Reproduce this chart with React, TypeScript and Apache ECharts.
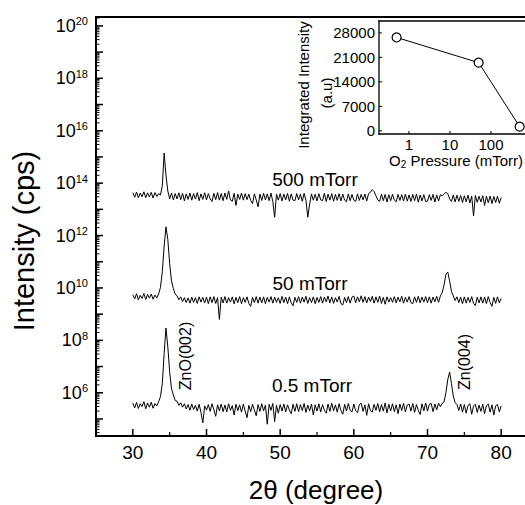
import React, { useEffect, useRef } from 'react';
import * as echarts from 'echarts';

// 2-theta sampling of the XRD scans (degrees)
const X_START = 30;
const X_STEP = 0.25;

// log10(intensity / cps) of each scan, one value every 0.25 deg from 30 to 80 deg
const logI_500mTorr = [
  13.64, 13.46, 13.66, 13.44, 13.62, 13.48, 13.67, 13.45, 13.63, 13.47,
  13.65, 13.43, 13.64, 13.49, 13.60, 13.55, 13.90, 15.15, 14.30, 13.70,
  13.40, 13.62, 13.36, 13.60, 13.40, 13.63, 13.37, 13.61, 13.32, 13.59,
  13.38, 13.62, 13.35, 13.60, 13.39, 13.64, 13.33, 13.59, 13.38, 13.63,
  13.36, 13.60, 13.40, 13.30, 13.61, 13.37, 13.64, 13.35, 13.60, 13.33,
  13.62, 13.38, 13.70, 13.36, 13.31, 13.61, 13.15, 13.58, 13.38, 13.62,
  13.35, 13.60, 13.37, 13.58, 13.34, 13.22, 13.59, 13.36, 13.10, 13.58,
  13.34, 13.61, 13.36, 13.59, 13.33, 13.62, 13.30, 12.70, 13.58, 13.35,
  13.60, 13.32, 13.58, 13.36, 13.61, 13.31, 13.59, 13.35, 13.33, 13.60,
  13.36, 13.58, 13.31, 13.61, 13.34, 12.70, 13.20, 13.59, 13.35, 13.58,
  13.32, 13.60, 13.36, 13.33, 13.61, 13.30, 13.58, 13.35, 13.60, 13.31,
  13.57, 13.34, 13.60, 13.32, 13.58, 13.35, 13.29, 13.59, 13.33, 13.57,
  13.35, 13.30, 13.59, 13.34, 13.57, 13.36, 13.58, 13.32, 13.60, 13.65,
  13.75, 13.68, 13.52, 13.36, 13.30, 13.58, 13.33, 13.57, 13.28, 13.56,
  13.33, 13.58, 13.35, 13.29, 13.57, 13.34, 13.56, 13.32, 13.58, 13.31,
  13.55, 13.30, 13.57, 13.33, 13.58, 13.27, 13.55, 13.32, 13.56, 13.30,
  13.31, 13.56, 13.34, 13.57, 13.28, 13.55, 13.32, 13.56, 13.52, 13.58,
  13.65, 13.60, 13.40, 13.30, 13.55, 13.28, 13.54, 13.30, 13.53, 13.26,
  13.52, 13.29, 13.54, 13.24, 13.51, 12.75, 13.53, 13.27, 13.50, 13.28,
  13.52, 13.15, 13.50, 13.25, 13.51, 13.22, 13.49, 13.26, 13.50, 13.23,
  13.45,
];

const logI_50mTorr = [
  9.74, 9.58, 9.78, 9.55, 9.72, 9.60, 9.79, 9.56, 9.75, 9.61,
  9.77, 9.57, 9.73, 9.62, 9.77, 10.02, 10.62, 11.60, 12.33, 11.85,
  10.92, 10.27, 9.97, 9.76, 9.70, 9.55, 9.66, 9.48, 9.63, 9.44,
  9.62, 9.42, 9.65, 9.45, 9.63, 9.41, 9.66, 9.46, 9.64, 9.43,
  9.65, 9.40, 9.66, 9.44, 9.67, 9.41, 9.63, 8.80, 9.65, 9.43,
  9.67, 9.42, 9.63, 9.46, 9.66, 9.39, 9.64, 9.44, 9.67, 9.40,
  9.63, 9.45, 9.66, 9.41, 9.30, 9.64, 9.44, 9.67, 9.42, 9.65,
  9.43, 9.66, 9.40, 9.64, 9.46, 9.67, 9.42, 9.65, 9.45, 9.63,
  9.41, 9.68, 9.44, 9.65, 9.40, 9.66, 9.43, 9.32, 9.64, 9.45,
  9.67, 9.42, 9.65, 9.46, 9.68, 9.41, 9.63, 9.44, 9.66, 9.40,
  9.64, 9.45, 9.67, 9.42, 9.65, 9.47, 9.69, 9.43, 9.66, 9.41,
  9.63, 9.46, 9.68, 9.40, 9.35, 9.64, 9.44, 9.67, 9.42, 9.65,
  9.69, 9.44, 9.66, 9.47, 9.70, 9.45, 9.67, 9.43, 9.65, 9.48,
  9.68, 9.42, 9.66, 9.45, 9.69, 9.41, 9.64, 9.38, 9.66, 9.46,
  9.63, 9.45, 9.67, 9.43, 9.65, 9.47, 9.68, 9.42, 9.64, 9.46,
  9.67, 9.44, 9.40, 9.66, 9.45, 9.68, 9.43, 9.65, 9.46, 9.67,
  9.44, 9.66, 9.42, 9.65, 9.47, 9.68, 9.45, 9.70, 9.82, 10.12,
  10.52, 10.61, 10.27, 9.87, 9.70, 9.52, 9.66, 9.44, 9.65, 9.40,
  9.66, 9.42, 9.64, 9.45, 9.67, 9.41, 9.33, 9.65, 9.43, 9.66,
  9.42, 9.65, 9.40, 9.67, 9.44, 9.30, 9.64, 9.41, 9.66, 9.43,
  9.60,
];

const logI_05mTorr = [
  5.60, 5.42, 5.63, 5.40, 5.58, 5.47, 5.66, 5.39, 5.61, 5.45,
  5.64, 5.41, 5.59, 5.50, 5.66, 5.85, 6.35, 7.50, 8.47, 7.75,
  6.80, 6.15, 5.92, 5.70, 5.68, 5.52, 5.62, 5.45, 5.58, 5.38,
  5.55, 5.33, 5.57, 5.36, 5.52, 5.30, 5.56, 5.25, 4.85, 5.50,
  5.34, 5.55, 5.29, 5.58, 5.35, 5.10, 5.54, 5.31, 5.57, 5.28,
  5.53, 5.27, 5.58, 5.33, 5.51, 5.15, 5.56, 5.32, 5.54, 5.26,
  5.57, 5.30, 5.05, 5.52, 5.28, 5.56, 5.34, 5.12, 5.55, 5.29,
  5.58, 5.31, 5.53, 4.80, 5.56, 5.33, 5.59, 4.90, 5.52, 5.22,
  5.55, 5.30, 5.57, 5.27, 5.54, 5.34, 5.20, 5.56, 5.29, 5.58,
  5.28, 5.55, 5.32, 5.59, 5.25, 5.53, 5.31, 5.57, 5.15, 5.54,
  5.30, 5.58, 5.27, 5.55, 5.33, 5.22, 5.57, 5.29, 5.60, 5.31,
  5.54, 5.26, 5.58, 5.32, 5.18, 5.56, 5.30, 5.59, 5.33, 5.27,
  5.57, 5.31, 5.24, 5.55, 5.60, 5.29, 5.54, 5.14, 5.58, 5.32,
  5.26, 5.56, 5.33, 5.59, 5.27, 5.55, 5.30, 5.61, 5.23, 5.56,
  5.31, 5.58, 5.28, 5.54, 5.20, 5.57, 5.32, 5.60, 5.27, 5.53,
  5.57, 5.30, 5.59, 5.25, 5.55, 5.33, 5.17, 5.58, 5.31, 5.61,
  5.30, 5.56, 5.59, 5.28, 5.57, 5.35, 5.60, 5.47, 5.60, 5.65,
  6.00, 6.50, 6.79, 6.35, 5.88, 5.62, 5.55, 5.32, 5.57, 5.26,
  5.55, 5.22, 5.52, 5.58, 5.18, 5.50, 5.56, 5.25, 5.53, 5.29,
  5.56, 5.20, 5.51, 5.57, 5.26, 5.54, 5.15, 5.50, 5.55, 5.27,
  5.50,
];

// Inset: integrated intensity vs O2 pressure
const o2Pressure = [0.5, 50, 500]; // mTorr
const integratedIntensity = [26700, 19500, 1200]; // a.u.

// Axis ranges
const X_MIN = 25;
const X_MAX = 85;
const Y_MIN = 4.35;
const Y_MAX = 20.34;
const IX_MIN = -0.73;
const IX_MAX = 3;
const IY_MIN = -900;
const IY_MAX = 31400;

// Tick / label positions
const xLabelValues = [30, 40, 50, 60, 70, 80];
const xMinorValues = [35, 45, 55, 65, 75];
const yLabelExponents = [6, 8, 10, 12, 14, 16, 18, 20];
const yDecadeExponents = [5, 6, 7, 8, 9, 10, 11, 12, 13, 14, 15, 16, 17, 18, 19, 20];
const yMinorMultipliers = [2, 3, 4, 5, 6, 7, 8, 9];
const insetYLabels = [0, 7000, 14000, 21000, 28000];
const insetXLabelExponents = [0, 1, 2];

const FONT = '"Liberation Sans", Arial, Helvetica, sans-serif';

const yMinorExponents: number[] = [];
for (let n = 4; n <= 20; n++) {
  for (const k of yMinorMultipliers) {
    const v = n + Math.log10(k);
    if (v > Y_MIN && v < Y_MAX) yMinorExponents.push(v);
  }
}

const toPairs = (arr: number[]) => arr.map((v, i) => [X_START + i * X_STEP, v]);

const black = '#000';

// short tick marks drawn through the axes' own scales
const tickSeries = (xi: number, yi: number, pts: number[][], dx: number, dy: number, width: number) => ({
  type: 'custom',
  xAxisIndex: xi,
  yAxisIndex: yi,
  silent: true,
  clip: false,
  z: 6,
  data: pts,
  renderItem: (_p: any, api: any) => {
    const p = api.coord([api.value(0), api.value(1)]);
    return {
      type: 'line',
      shape: { x1: p[0], y1: p[1], x2: p[0] + dx, y2: p[1] + dy },
      style: { stroke: black, lineWidth: width },
    };
  },
});

// frame segments [x1, y1, x2, y2] in data units
const segSeries = (xi: number, yi: number, segs: number[][], width: number) => ({
  type: 'custom',
  xAxisIndex: xi,
  yAxisIndex: yi,
  silent: true,
  clip: false,
  z: 6,
  dimensions: ['x', 'y', 'x2', 'y2'],
  encode: { x: 0, y: 1 },
  data: segs,
  renderItem: (_p: any, api: any) => {
    const a = api.coord([api.value(0), api.value(1)]);
    const b = api.coord([api.value(2), api.value(3)]);
    return {
      type: 'line',
      shape: { x1: a[0], y1: a[1], x2: b[0], y2: b[1] },
      style: { stroke: black, lineWidth: width, lineCap: 'square' },
    };
  },
});

function buildOption(): any {
  const scanSeries = [logI_500mTorr, logI_50mTorr, logI_05mTorr].map((arr, i) => ({
    type: 'line',
    name: ['500 mTorr', '50 mTorr', '0.5 mTorr'][i],
    xAxisIndex: 0,
    yAxisIndex: 0,
    data: toPairs(arr),
    showSymbol: false,
    symbol: 'none',
    lineStyle: { color: black, width: 1 },
    silent: true,
  }));

  const txt = (text: string, x: number, y: number, fontSize: number, rot = 0, extra: any = {}) => ({
    type: 'text',
    x,
    y,
    rotation: rot,
    silent: true,
    z: 100,
    style: {
      text,
      x: 0,
      y: 0,
      fill: black,
      fontSize,
      fontFamily: FONT,
      align: 'center',
      verticalAlign: 'middle',
      ...extra,
    },
  });

  const gridBase = { show: false, outerBoundsMode: 'none', containLabel: false };
  const off = { axisLine: { show: false }, axisTick: { show: false }, splitLine: { show: false } };

  return {
    animation: false,
    backgroundColor: '#fff',
    grid: [
      { left: 96, top: 17, width: 442, height: 419, ...gridBase },
      { left: 379, top: 21, width: 153, height: 113, ...gridBase },
    ],
    xAxis: [
      {
        type: 'value', gridIndex: 0, min: X_MIN, max: X_MAX, position: 'bottom', ...off,
        axisLabel: { show: true, customValues: xLabelValues, fontSize: 19, color: black, fontFamily: FONT, margin: 7, formatter: (v: number) => String(v) },
      },
      {
        type: 'value', gridIndex: 1, min: IX_MIN, max: IX_MAX, position: 'bottom', ...off,
        axisLabel: {
          show: true, customValues: insetXLabelExponents, fontSize: 15, color: black, fontFamily: FONT, margin: 3,
          formatter: (v: number) => String(Math.round(Math.pow(10, v))),
        },
      },
    ],
    yAxis: [
      {
        type: 'value', gridIndex: 0, min: Y_MIN, max: Y_MAX, position: 'left', ...off,
        axisLabel: {
          show: true, customValues: yLabelExponents, margin: 8, color: black,
          formatter: (v: number) => `{b|10}{s|${Math.round(v)}}`,
          rich: {
            b: { fontSize: 18, lineHeight: 20, fontFamily: FONT, color: black },
            s: { fontSize: 11, lineHeight: 12, verticalAlign: 'top', fontFamily: FONT, color: black },
          },
        },
      },
      {
        type: 'value', gridIndex: 1, min: IY_MIN, max: IY_MAX, position: 'left', ...off,
        axisLabel: { show: true, customValues: insetYLabels, fontSize: 15, color: black, fontFamily: FONT, margin: 4, formatter: (v: number) => String(v) },
      },
    ],
    series: [
      ...scanSeries,
      // main frame
      segSeries(0, 0, [
        [X_MIN, Y_MIN, X_MIN, Y_MAX],
        [X_MIN, Y_MAX, X_MAX, Y_MAX],
        [X_MIN, Y_MIN, X_MAX, Y_MIN],
        [X_MAX, Y_MIN, X_MAX, Y_MAX],
      ], 2),
      // main ticks (inside)
      tickSeries(0, 0, xLabelValues.map((v) => [v, Y_MIN]), 0, -7, 1.5),
      tickSeries(0, 0, xMinorValues.map((v) => [v, Y_MIN]), 0, -4, 1.2),
      tickSeries(0, 0, yDecadeExponents.map((v) => [X_MIN, v]), 7, 0, 1.5),
      tickSeries(0, 0, yMinorExponents.map((v) => [X_MIN, v]), 3.5, 0, 1),
      // inset frame
      segSeries(1, 1, [
        [IX_MIN, IY_MIN, IX_MIN, IY_MAX],
        [IX_MIN, IY_MAX, IX_MAX, IY_MAX],
        [IX_MIN, IY_MIN, IX_MAX, IY_MIN],
        [IX_MAX, IY_MIN, IX_MAX, IY_MAX],
      ], 1.3),
      // inset ticks
      tickSeries(1, 1, insetXLabelExponents.map((v) => [v, IY_MIN]), 0, -3, 1),
      tickSeries(1, 1, insetYLabels.map((v) => [IX_MIN, v]), 3, 0, 1),
      {
        type: 'line',
        xAxisIndex: 1,
        yAxisIndex: 1,
        data: o2Pressure.map((p, i) => [Math.log10(p), integratedIntensity[i]]),
        symbol: 'circle',
        symbolSize: 9,
        showSymbol: true,
        itemStyle: { color: '#fff', borderColor: black, borderWidth: 1.2 },
        lineStyle: { color: black, width: 1 },
        z: 7,
        silent: true,
      },
    ],
    graphic: [
      txt('Intensity (cps)', 24, 241, 29, Math.PI / 2),
      txt('2θ (degree)', 316, 490, 26),
      txt('500 mTorr', 315, 179, 19),
      txt('50 mTorr', 310, 283, 19),
      txt('0.5 mTorr', 312, 385, 19),
      txt('ZnO(002)', 185, 356, 16, Math.PI / 2),
      txt('Zn(004)', 464, 362, 16, Math.PI / 2),
      txt('Integrated Intensity', 303, 85, 15, Math.PI / 2),
      txt('(a.u)', 326, 93, 15, Math.PI / 2),
      txt('{a|O}{s|2}{a| Pressure (mTorr)}', 456, 160, 15, 0, {
        rich: {
          a: { fontSize: 15, fontFamily: FONT, fill: black, color: black, lineHeight: 18 },
          s: { fontSize: 10, fontFamily: FONT, fill: black, color: black, verticalAlign: 'bottom', lineHeight: 12 },
        },
      }),
    ],
  };
}

export default function App() {
  const ref = useRef<HTMLDivElement>(null);
  useEffect(() => {
    if (!ref.current) return;
    const chart = echarts.init(ref.current, null, { renderer: 'svg' });
    chart.setOption(buildOption());
    return () => chart.dispose();
  }, []);
  return (
    <div
      ref={ref}
      style={{ position: 'fixed', left: 0, top: 0, width: 525, height: 505, background: '#fff' }}
    />
  );
}
